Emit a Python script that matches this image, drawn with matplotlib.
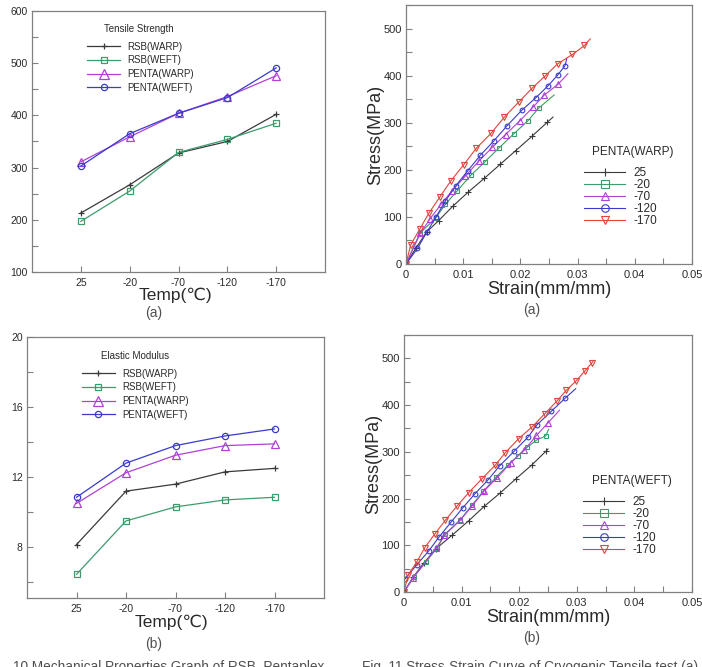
import numpy as np
import matplotlib
matplotlib.use("Agg")
import matplotlib.pyplot as plt
from matplotlib.ticker import MultipleLocator

plt.rcParams['font.family'] = ['Liberation Sans', 'DejaVu Sans']

# ---- data ----
temps = ['25', '-20', '-70', '-120', '-170']
series_names = ['RSB(WARP)', 'RSB(WEFT)', 'PENTA(WARP)', 'PENTA(WEFT)']

ts_rsb_warp = [213, 267, 328, 350, 402]
ts_rsb_weft = [197, 255, 329, 354, 385]
ts_penta_warp = [311, 359, 404, 436, 476]
ts_penta_weft = [303, 365, 404, 434, 491]

em_rsb_warp = [8.15, 11.2, 11.6, 12.3, 12.5]
em_rsb_weft = [6.45, 9.5, 10.3, 10.7, 10.85]
em_penta_warp = [10.5, 12.25, 13.25, 13.8, 13.9]
em_penta_weft = [10.85, 12.8, 13.8, 14.35, 14.75]

curve_labels = ['25', '-20', '-70', '-120', '-170']

warp_25_x = [0, 0.0017, 0.0036, 0.0057, 0.0082, 0.0109, 0.0137, 0.0165, 0.0192, 0.0220, 0.0247, 0.0257]
warp_25_y = [0, 33, 68, 92, 123, 153, 182, 212, 241, 271, 301, 312]
warp_m20_x = [0, 0.0024, 0.0052, 0.0069, 0.0090, 0.0113, 0.0138, 0.0163, 0.0188, 0.0213, 0.0232, 0.0259]
warp_m20_y = [0, 65, 98, 127, 156, 188, 217, 247, 276, 304, 331, 359]
warp_m70_x = [0, 0.0025, 0.0042, 0.0062, 0.0081, 0.0104, 0.0127, 0.0151, 0.0174, 0.0199, 0.0222, 0.0242, 0.0266, 0.0283]
warp_m70_y = [0, 65, 96, 128, 156, 187, 218, 248, 275, 304, 333, 359, 382, 404]
warp_m120_x = [0, 0.0020, 0.0037, 0.0052, 0.0069, 0.0087, 0.0108, 0.0130, 0.0154, 0.0177, 0.0202, 0.0227, 0.0248, 0.0265, 0.0278, 0.0281]
warp_m120_y = [0, 33, 69, 99, 134, 166, 198, 231, 262, 294, 326, 353, 378, 401, 421, 436]
warp_m170_x = [0, 0.0008, 0.0024, 0.0040, 0.0059, 0.0078, 0.0101, 0.0123, 0.0149, 0.0172, 0.0198, 0.0221, 0.0243, 0.0265, 0.0291, 0.0312, 0.0322]
warp_m170_y = [0, 40, 74, 108, 142, 176, 211, 246, 278, 312, 345, 374, 399, 425, 445, 464, 478]

weft_25_x = [0, 0.0016, 0.0035, 0.0056, 0.0083, 0.0112, 0.0139, 0.0167, 0.0194, 0.0222, 0.0247, 0.0250]
weft_25_y = [0, 32, 63, 93, 121, 152, 183, 212, 242, 272, 302, 306]
weft_m20_x = [0, 0.0017, 0.0038, 0.0058, 0.0072, 0.0098, 0.0118, 0.0138, 0.0160, 0.0180, 0.0198, 0.0214, 0.0230, 0.0246, 0.0251]
weft_m20_y = [0, 33, 64, 95, 125, 155, 186, 216, 246, 271, 292, 310, 325, 334, 348]
weft_m70_x = [0, 0.0016, 0.0056, 0.0070, 0.0098, 0.0118, 0.0139, 0.0162, 0.0185, 0.0209, 0.0230, 0.0250, 0.0270]
weft_m70_y = [0, 30, 94, 121, 154, 184, 216, 245, 276, 304, 335, 362, 389]
weft_m120_x = [0, 0.0001, 0.0022, 0.0043, 0.0061, 0.0082, 0.0102, 0.0123, 0.0146, 0.0166, 0.0191, 0.0215, 0.0231, 0.0256, 0.0280, 0.0298]
weft_m120_y = [0, 27, 58, 88, 118, 150, 180, 210, 240, 270, 301, 331, 358, 387, 415, 435]
weft_m170_x = [0, 0.0007, 0.0022, 0.0036, 0.0054, 0.0072, 0.0092, 0.0112, 0.0135, 0.0158, 0.0175, 0.0199, 0.0223, 0.0244, 0.0265, 0.0282, 0.0299, 0.0314, 0.0326, 0.0328]
weft_m170_y = [0, 36, 64, 95, 125, 154, 184, 212, 242, 271, 297, 328, 354, 381, 408, 432, 452, 473, 490, 493]

strain_ticks = [0, 0.01, 0.02, 0.03, 0.04, 0.05]
strain_labels = ['0', '0.01', '0.02', '0.03', '0.04', '0.05']

# ---- style ----
black, green, purple, blue, red = '#3a3a3a', '#3c9c6c', '#b040d8', '#3a3acc', '#e0443c'
prop_styles = [(black, '+', 5), (green, 's', 4), (purple, '^', 5.5), (blue, 'o', 4.5)]
curve_styles = [(black, '+', 4), (green, 's', 3.2), (purple, '^', 3.8), (blue, 'o', 3.4), (red, 'v', 3.8)]
spine_col = '#808080'
text_col = '#2a2a2a'

W, H = 702, 667
fig = plt.figure(figsize=(W / 100, H / 100), dpi=100)


def px_axes(l, t, r, b):
    return fig.add_axes([l / W, 1 - b / H, (r - l) / W, (b - t) / H])


def style_axes(ax, size):
    for s in ax.spines.values():
        s.set_color(spine_col)
        s.set_linewidth(0.9)
    ax.tick_params(which='both', direction='in', length=4, width=0.8, color=spine_col,
                   labelsize=size, labelcolor=text_col, top=False, right=False)
    ax.tick_params(axis='x', pad=4)
    ax.tick_params(axis='y', pad=3)


def prop_chart(ax, series, ylim, ymajor, title, leg_pos, title_pos):
    pos = np.arange(1, len(temps) + 1)
    for vals, name, (c, m, ms) in zip(series, series_names, prop_styles):
        ax.plot(pos, vals, color=c, lw=0.9, marker=m, ms=ms, mfc='none', mew=0.9, label=name)
    ax.set_xlim(0, 6)
    ax.set_ylim(*ylim)
    ax.set_xticks(pos, temps)
    ax.yaxis.set_major_locator(MultipleLocator(ymajor))
    ax.yaxis.set_minor_locator(MultipleLocator(ymajor / 2))
    style_axes(ax, 7.5)
    ax.set_xlabel('Temp(℃)', fontsize=12.5, color=text_col)
    leg = ax.legend(loc='upper left', bbox_to_anchor=leg_pos, frameon=False, fontsize=7,
                    handlelength=3.4, handletextpad=0.7, labelspacing=0.38,
                    borderpad=0, borderaxespad=0, labelcolor=text_col)
    for h, (c, m, ms) in zip(leg.legend_handles, prop_styles):
        h.set_markersize(ms * 1.3 if m == '^' else ms)
    ax.text(title_pos[0], title_pos[1], title, transform=ax.transAxes, fontsize=7,
            color=text_col, va='center', ha='left')
    return ax


def curve_chart(ax, curves, title):
    for (x, y), name, (c, m, ms) in zip(curves, curve_labels, curve_styles):
        ax.plot(x, y, color=c, lw=0.8, marker=m, ms=ms, mfc='none', mew=0.8,
                markevery=slice(0, -1), label=name)
    ax.set_xlim(0, 0.05)
    ax.set_ylim(0, 550)
    ax.set_xticks(strain_ticks, strain_labels)
    ax.xaxis.set_minor_locator(MultipleLocator(0.005))
    ax.yaxis.set_major_locator(MultipleLocator(100))
    ax.yaxis.set_minor_locator(MultipleLocator(50))
    style_axes(ax, 8)
    ax.set_xlabel('Strain(mm/mm)', fontsize=13, color=text_col)
    ax.set_ylabel('Stress(MPa)', fontsize=13, color=text_col)
    ax.xaxis.set_label_coords(0.5, -0.066)
    ax.yaxis.set_label_coords(-0.075, 0.5)
    leg = ax.legend(loc='upper left', bbox_to_anchor=(0.622, 0.374), frameon=False, fontsize=8.5,
                    handlelength=3.5, handletextpad=0.7, labelspacing=0.0,
                    borderpad=0, borderaxespad=0, labelcolor=text_col)
    for h, (c, m, ms) in zip(leg.legend_handles, curve_styles):
        h.set_markersize(ms * 1.6)
    ax.text(0.652, 0.432, title, transform=ax.transAxes, fontsize=8.5,
            color=text_col, va='center', ha='left')
    return ax


# tensile strength (top left)
ax1 = prop_chart(px_axes(32, 11, 325, 272),
                 [ts_rsb_warp, ts_rsb_weft, ts_penta_warp, ts_penta_weft],
                 (100, 600), 100, 'Tensile Strength', (0.188, 0.882), (0.246, 0.931))
ax1.xaxis.set_label_coords(0.49, -0.058)

# elastic modulus (bottom left)
ax3 = prop_chart(px_axes(27, 337, 324, 598),
                 [em_rsb_warp, em_rsb_weft, em_penta_warp, em_penta_weft],
                 (5.1, 20), 4, 'Elastic Modulus', (0.185, 0.879), (0.249, 0.927))
ax3.xaxis.set_label_coords(0.488, -0.062)

# stress-strain warp (top right)
ax2 = curve_chart(px_axes(406, 5, 692, 264),
                  [(warp_25_x, warp_25_y), (warp_m20_x, warp_m20_y), (warp_m70_x, warp_m70_y),
                   (warp_m120_x, warp_m120_y), (warp_m170_x, warp_m170_y)], 'PENTA(WARP)')

# stress-strain weft (bottom right)
ax4 = curve_chart(px_axes(404, 335, 692, 592),
                  [(weft_25_x, weft_25_y), (weft_m20_x, weft_m20_y), (weft_m70_x, weft_m70_y),
                   (weft_m120_x, weft_m120_y), (weft_m170_x, weft_m170_y)], 'PENTA(WEFT)')

# sub captions
cap_col = '#505050'
for x, y, s in [(154, 313, '(a)'), (532, 310, '(a)'), (154, 644, '(b)'), (532, 638, '(b)')]:
    fig.text(x / W, 1 - y / H, s, fontsize=10, color=cap_col, ha='center', va='center')

# figure captions, cut by the bottom edge like the scan
fig.text(13 / W, 1 - 660 / H, '10 Mechanical Properties Graph of RSB, Pentaplex',
         fontsize=9.8, color=cap_col, ha='left', va='top')
fig.text(362 / W, 1 - 660 / H, 'Fig. 11 Stress-Strain Curve of Cryogenic Tensile test (a) warp',
         fontsize=9.8, color=cap_col, ha='left', va='top')

fig.savefig('out.png', dpi=100)
